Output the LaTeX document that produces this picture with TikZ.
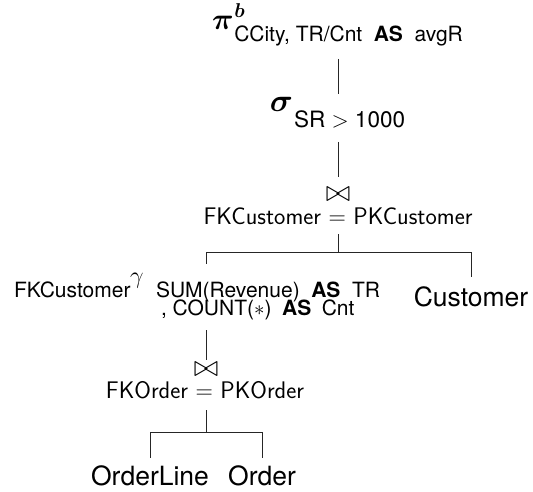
\RequirePackage{fix-cm}
\documentclass[tikz,border=0pt]{standalone}
\usepackage{amsmath}
\usepackage{fontspec}
\setmainfont{TeX Gyre Heros}
\usetikzlibrary{calc}
\newcommand{\fsz}[1]{\fontsize{#1}{#1}\selectfont}
\begin{document}
\begin{tikzpicture}[x=1pt,y=-1pt,
  every node/.style={inner sep=0pt,outer sep=0pt},
  lbl/.style={anchor=base},
  lblw/.style={anchor=base west},
  edge/.style={draw=black!85,line width=0.8pt}]
\useasboundingbox (0,0) rectangle (533,492);
% nodes
\node[lbl] (pi) at (337.5,30) {\fsz{30}$\boldsymbol{\pi}$\kern0.5pt\rlap{\raisebox{12pt}{\fsz{20}$\boldsymbol{b}$}}\raisebox{-12pt}{\fsz{21}CCity, TR/Cnt\hspace{0.55em}\textbf{AS}\hspace{0.55em}avgR}};
\node[lbl] (sigma) at (337.5,112) {\fsz{32}$\boldsymbol{\sigma}$\kern1pt\raisebox{-16pt}{\fsz{22.5}SR $>$ 1000}};
\node[lbl] (j1) at (338,201) {\fsz{30}$\bowtie$};
\node[lbl] (c1) at (338,224) {\sffamily\fsz{24}FKCustomer $=$ PKCustomer};
\node[lbl] (cust) at (471,306) {\fsz{26.5}Customer};
\node[lblw] (gk) at (14,297) {\fsz{21}FKCustomer};
\node[lblw] (gg) at (130,283) {\fsz{24}$\gamma$};
\node[lblw] (gs1) at (156,297) {\fsz{21}SUM(Revenue)\hspace{0.55em}\textbf{AS}\hspace{0.55em}TR};
\node[lblw] (gs2) at (161,315) {\fsz{21}, COUNT($*$)\hspace{0.5em}\textbf{AS}\hspace{0.5em}Cnt};
\node[lbl] (j2) at (206,376) {\fsz{30}$\bowtie$};
\node[lbl] (c2) at (205,398) {\sffamily\fsz{24}FKOrder $=$ PKOrder};
\node[lbl] (ol) at (150,485) {\fsz{26.5}OrderLine};
\node[lbl] (ord) at (262,485) {\fsz{26.5}Order};
% connectors
\coordinate (fork1) at ($(c1.base)+(0,28)$);
\coordinate (fork2) at ($(j2.base |- c2.base)+(0,34)$);
\draw[edge] ($(j1.base |- pi.base)+(0,29)$) -- ($(j1.base |- sigma.base)+(0,-18)$);
\draw[edge] ($(j1.base |- sigma.base)+(0,30)$) -- ($(j1.base)+(0,-24)$);
\draw[edge] ($(c1.base)+(0,10)$) -- (fork1);
\draw[edge] (fork1 -| j2.base) -- (fork1 -| cust.base);
\draw[edge] (fork1 -| j2.base) -- ($(j2.base |- gs1.base)+(0,-33)$);
\draw[edge] (fork1 -| cust.base) -- ($(cust.base)+(0,-29)$);
\draw[edge] ($(j2.base |- gs2.base)+(0,15)$) -- ($(j2.base)+(0,-16)$);
\draw[edge] ($(j2.base |- c2.base)+(0,12)$) -- (fork2);
\draw[edge] (fork2 -| ol.base) -- (fork2 -| ord.base);
\draw[edge] (fork2 -| ol.base) -- ($(ol.base)+(0,-27)$);
\draw[edge] (fork2 -| ord.base) -- ($(ord.base)+(0,-27)$);
\end{tikzpicture}
\end{document}
